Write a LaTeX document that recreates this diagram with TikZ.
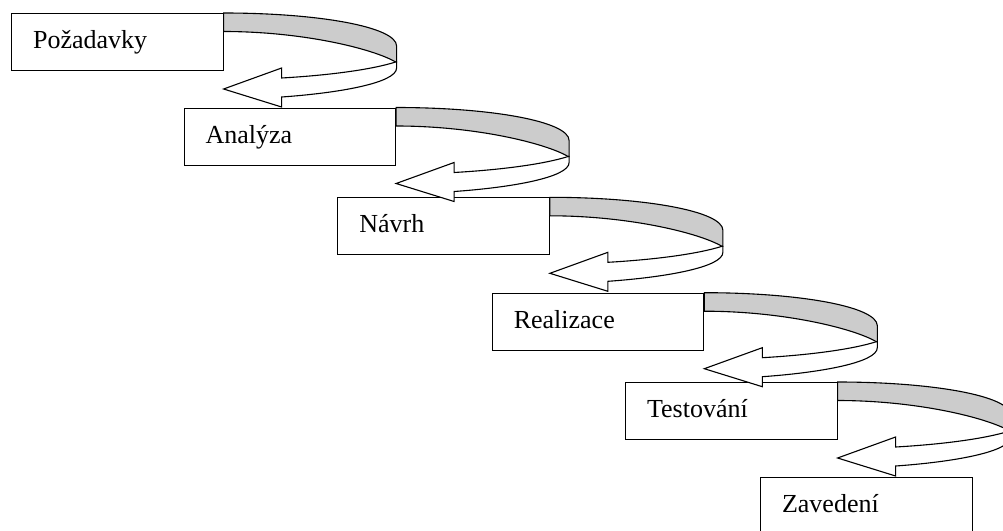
\documentclass[tikz,border=0pt]{standalone}
\usepackage{fontspec}
\setmainfont{Liberation Serif}
\definecolor{ribbongray}{RGB}{204,204,204}
\tikzset{
  stagebox/.style={draw, fill=white, line width=1.1pt, rectangle, anchor=north west,
    minimum width=211.5pt, minimum height=57pt, text width=168.5pt,
    inner xsep=21.5pt, inner ysep=0pt, text height=18pt, text depth=5pt, align=left,
    font=\fontsize{26}{30}\selectfont},
  ribbonline/.style={draw=black, line width=1.1pt, line join=miter},
}
\newcommand\stageribbon[1]{%
  \begin{scope}[shift={(#1.north east)}]
    \path[ribbonline, fill=ribbongray]
      (0,0) .. controls (95.5,0) and (173,14) .. (173,33)
      -- (173,49) -- (172,49) .. controls (150,36) and (80,18.5) .. (0,18.5) -- cycle;
    \path[ribbonline, fill=white]
      (172,49) .. controls (150,56) and (110,62) .. (58,65)
      -- (58,55) -- (0,76) -- (58,94) -- (58,84)
      .. controls (115,80) and (173,70) .. (173,55) -- (173,49) -- cycle;
  \end{scope}}
\begin{document}
\begin{tikzpicture}[x=1pt, y=-1pt]
  \useasboundingbox (0,0) rectangle (1003,530);
  \clip (0,0) rectangle (1003,530);
  \node[stagebox] (b1) at (11,13) {Požadavky};
  \node[stagebox] (b2) at (183.5,107.5) {Analýza};
  \node[stagebox] (b3) at (337.3,197.3) {Návrh};
  \node[stagebox] (b4) at (491.7,292.7) {Realizace};
  \node[stagebox] (b5) at (625,382) {Testování};
  \node[stagebox] (b6) at (760,476.5) {Zavedení};
  \stageribbon{b1}
  \stageribbon{b2}
  \stageribbon{b3}
  \stageribbon{b4}
  \stageribbon{b5}
\end{tikzpicture}
\end{document}
